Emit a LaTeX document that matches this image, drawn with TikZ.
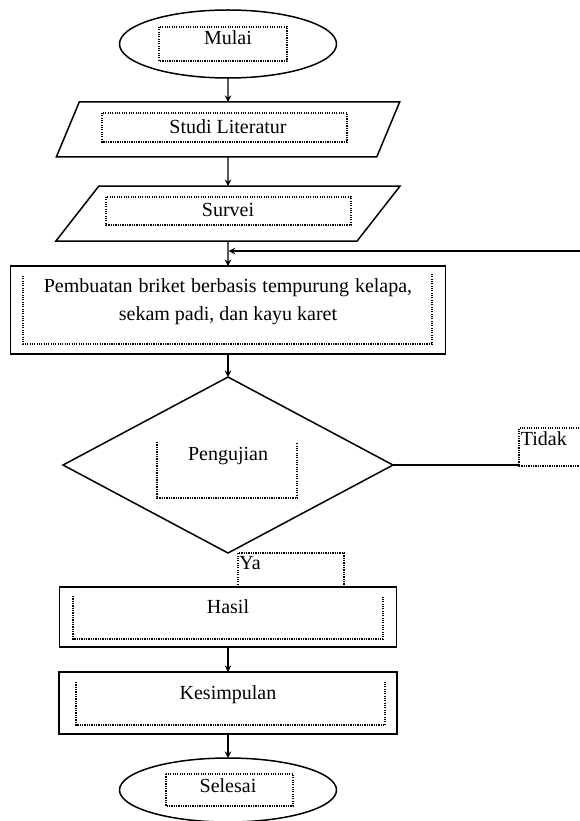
\documentclass[tikz,border=0pt]{standalone}
\usepackage{fontspec}
\setmainfont{Liberation Serif}
\usetikzlibrary{shapes.geometric, arrows, positioning}

\begin{document}
\begin{tikzpicture}[
    x=0.6pt, y=-0.6pt,
    font=\fontsize{12}{14}\selectfont,
    startstop/.style={ellipse, minimum width=130.2pt, text centered, draw, line width=0.9pt, outer sep=0pt, text height=8.2pt},
    io/.style={trapezium, trapezium left angle=72, trapezium right angle=108, trapezium stretches=true, minimum width=207pt, minimum height=33pt, text centered, draw, line width=0.9pt, outer sep=0pt, text height=8.2pt},
    process/.style={rectangle, text centered, draw, line width=0.9pt, outer sep=0pt},
    decision/.style={diamond, minimum width=198pt, minimum height=105.6pt, text centered, draw, line width=0.9pt, outer sep=0pt, text height=8.2pt},
    arrow/.style={->,>=stealth, line width=0.75pt},
    textframe/.style={line width=0.75pt, dash pattern=on 0.7pt off 0.7pt},
    branch/.style={inner sep=0pt, anchor=base west}
]
\useasboundingbox (0,0) rectangle (579,821);

\node (mulai) [startstop, minimum height=40.8pt, text depth=7pt] at (228,44) {Mulai};
\node (studi_literatur) [io, text depth=3.4pt, below=14.4pt of mulai] {Studi Literatur};
\node (survei) [io, text depth=4.6pt, below=17.4pt of studi_literatur] {Survei};
\node (pembuatan) [process, minimum width=261pt, minimum height=52.8pt, align=center, below=15pt of survei] {\raisebox{5.2pt}[\height][\depth]{\makebox[221pt][s]{Pembuatan briket berbasis tempurung kelapa,}}\\[2.8pt]\raisebox{5.2pt}[\height][\depth]{sekam padi, dan kayu karet}};
\node (pengujian) [decision, text depth=14.2pt, below=13.8pt of pembuatan] {Pengujian};
\node (hasil) [process, minimum width=202.2pt, minimum height=36pt, text height=8.2pt, text depth=13pt, below=20.4pt of pengujian] {Hasil};
\node (kesimpulan) [process, minimum width=202.8pt, minimum height=37.2pt, text height=8.2pt, text depth=13pt, below=15pt of hasil] {Kesimpulan};
\node (selesai) [startstop, minimum height=38.4pt, text depth=5.8pt, below=14.4pt of kesimpulan] {Selesai};

\draw [arrow] (mulai) -- (studi_literatur);
\draw [arrow] (studi_literatur) -- (survei);
\draw [arrow] (survei) -- (pembuatan);
\draw [arrow] (pembuatan) -- (pengujian);
\draw [arrow] (hasil) -- (kesimpulan);
\draw [arrow] (kesimpulan) -- (selesai);

% jalur kembali dari Pengujian (Tidak)
\coordinate (balik) at (590,251);
\draw [arrow, shorten >=0.4pt] (pengujian.east) -| (balik) -- (pembuatan.north |- balik);

% kotak teks bertitik
\draw [textframe] (159,27) rectangle (287,61);
\draw [textframe] (102,113) rectangle (347,142);
\draw [textframe] (106,197) rectangle (351,225);
\draw [textframe] (23,276) -- (23,344) -- (432,344) -- (432,274);
\draw [textframe] (157,442) -- (157,498) -- (297,498) -- (297,443);
\draw [textframe] (238,587) -- (238,553) -- (344,553) -- (344,587);
\draw [textframe] (73,596) -- (73,639) -- (383,639) -- (383,596);
\draw [textframe] (76,682) -- (76,725) -- (385,725) -- (385,682);
\draw [textframe] (166,774) rectangle (293,806);
\fill [white] (519,428) rectangle (600,466);
\draw [textframe] (600,428) -- (519,428) -- (519,466) -- (600,466);

\node (ya) [branch] at (239,569) {Ya};
\node (tidak) [branch] at (520.5,445) {Tidak};

\end{tikzpicture}
\end{document}
